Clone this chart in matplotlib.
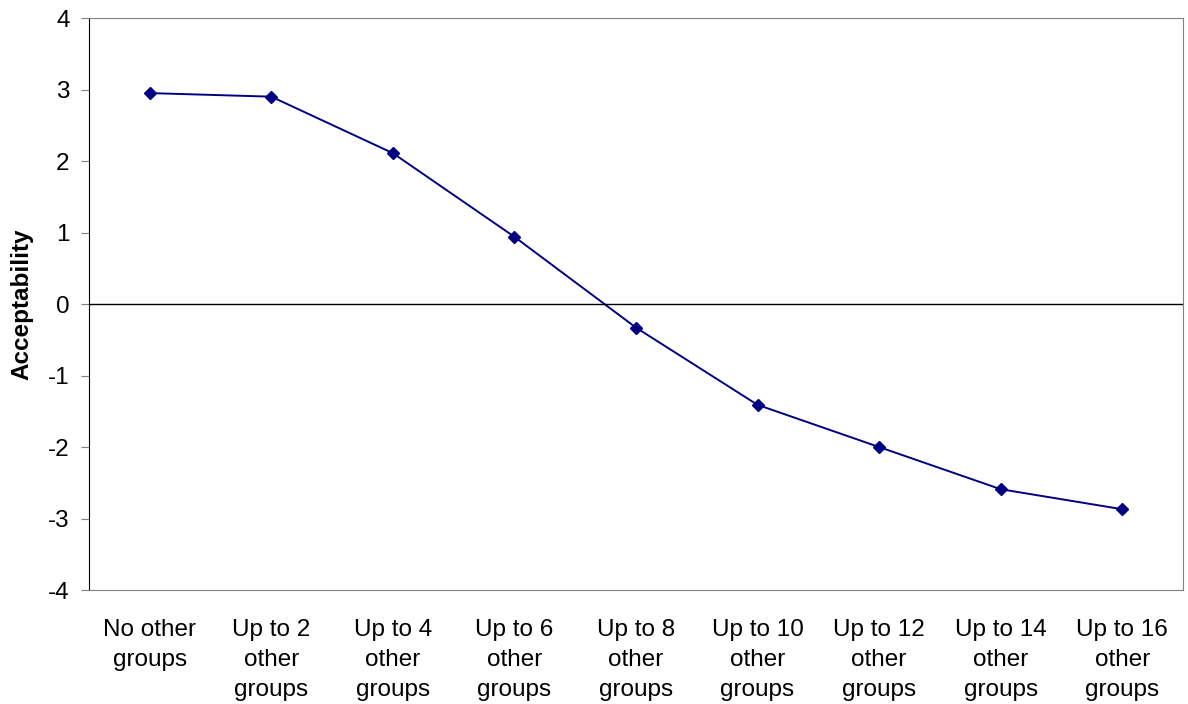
import matplotlib.pyplot as plt

plt.rcParams['font.family'] = ['Liberation Sans', 'DejaVu Sans']
plt.rcParams['axes.unicode_minus'] = False

categories = ["No other\ngroups", "Up to 2\nother\ngroups", "Up to 4\nother\ngroups",
              "Up to 6\nother\ngroups", "Up to 8\nother\ngroups", "Up to 10\nother\ngroups",
              "Up to 12\nother\ngroups", "Up to 14\nother\ngroups", "Up to 16\nother\ngroups"]
acceptability = [2.95, 2.90, 2.11, 0.94, -0.33, -1.41, -2.00, -2.59, -2.87]

fig = plt.figure(figsize=(11.88, 7.04), dpi=100)
ax = fig.add_axes([0.0749, 0.1619, 0.9209, 0.8125])

x = range(len(categories))
ax.plot(x, acceptability, color='#000080', linewidth=1.4, marker='D', markersize=6.5)
ax.axhline(0, color='black', linewidth=1)

ax.set_xlim(-0.5, len(categories) - 0.5)
ax.set_ylim(-4, 4)
ax.set_yticks(range(-4, 5))
ax.set_xticks(list(x))
ax.set_xticklabels(categories, fontsize=17.5, linespacing=1.47, va='top')
ax.tick_params(axis='x', length=0, pad=21)
ax.tick_params(axis='y', labelsize=17.5, length=6, pad=8, direction='out', color='#808080')

fig.text(22 / 1188, 0.5681, 'Acceptability', fontsize=17.5, fontweight='bold',
         rotation=90, ha='center', va='center')

ax.spines['left'].set_color('black')
for s in ['top', 'right', 'bottom']:
    ax.spines[s].set_color('#808080')

fig.savefig('out.png', dpi=100)
